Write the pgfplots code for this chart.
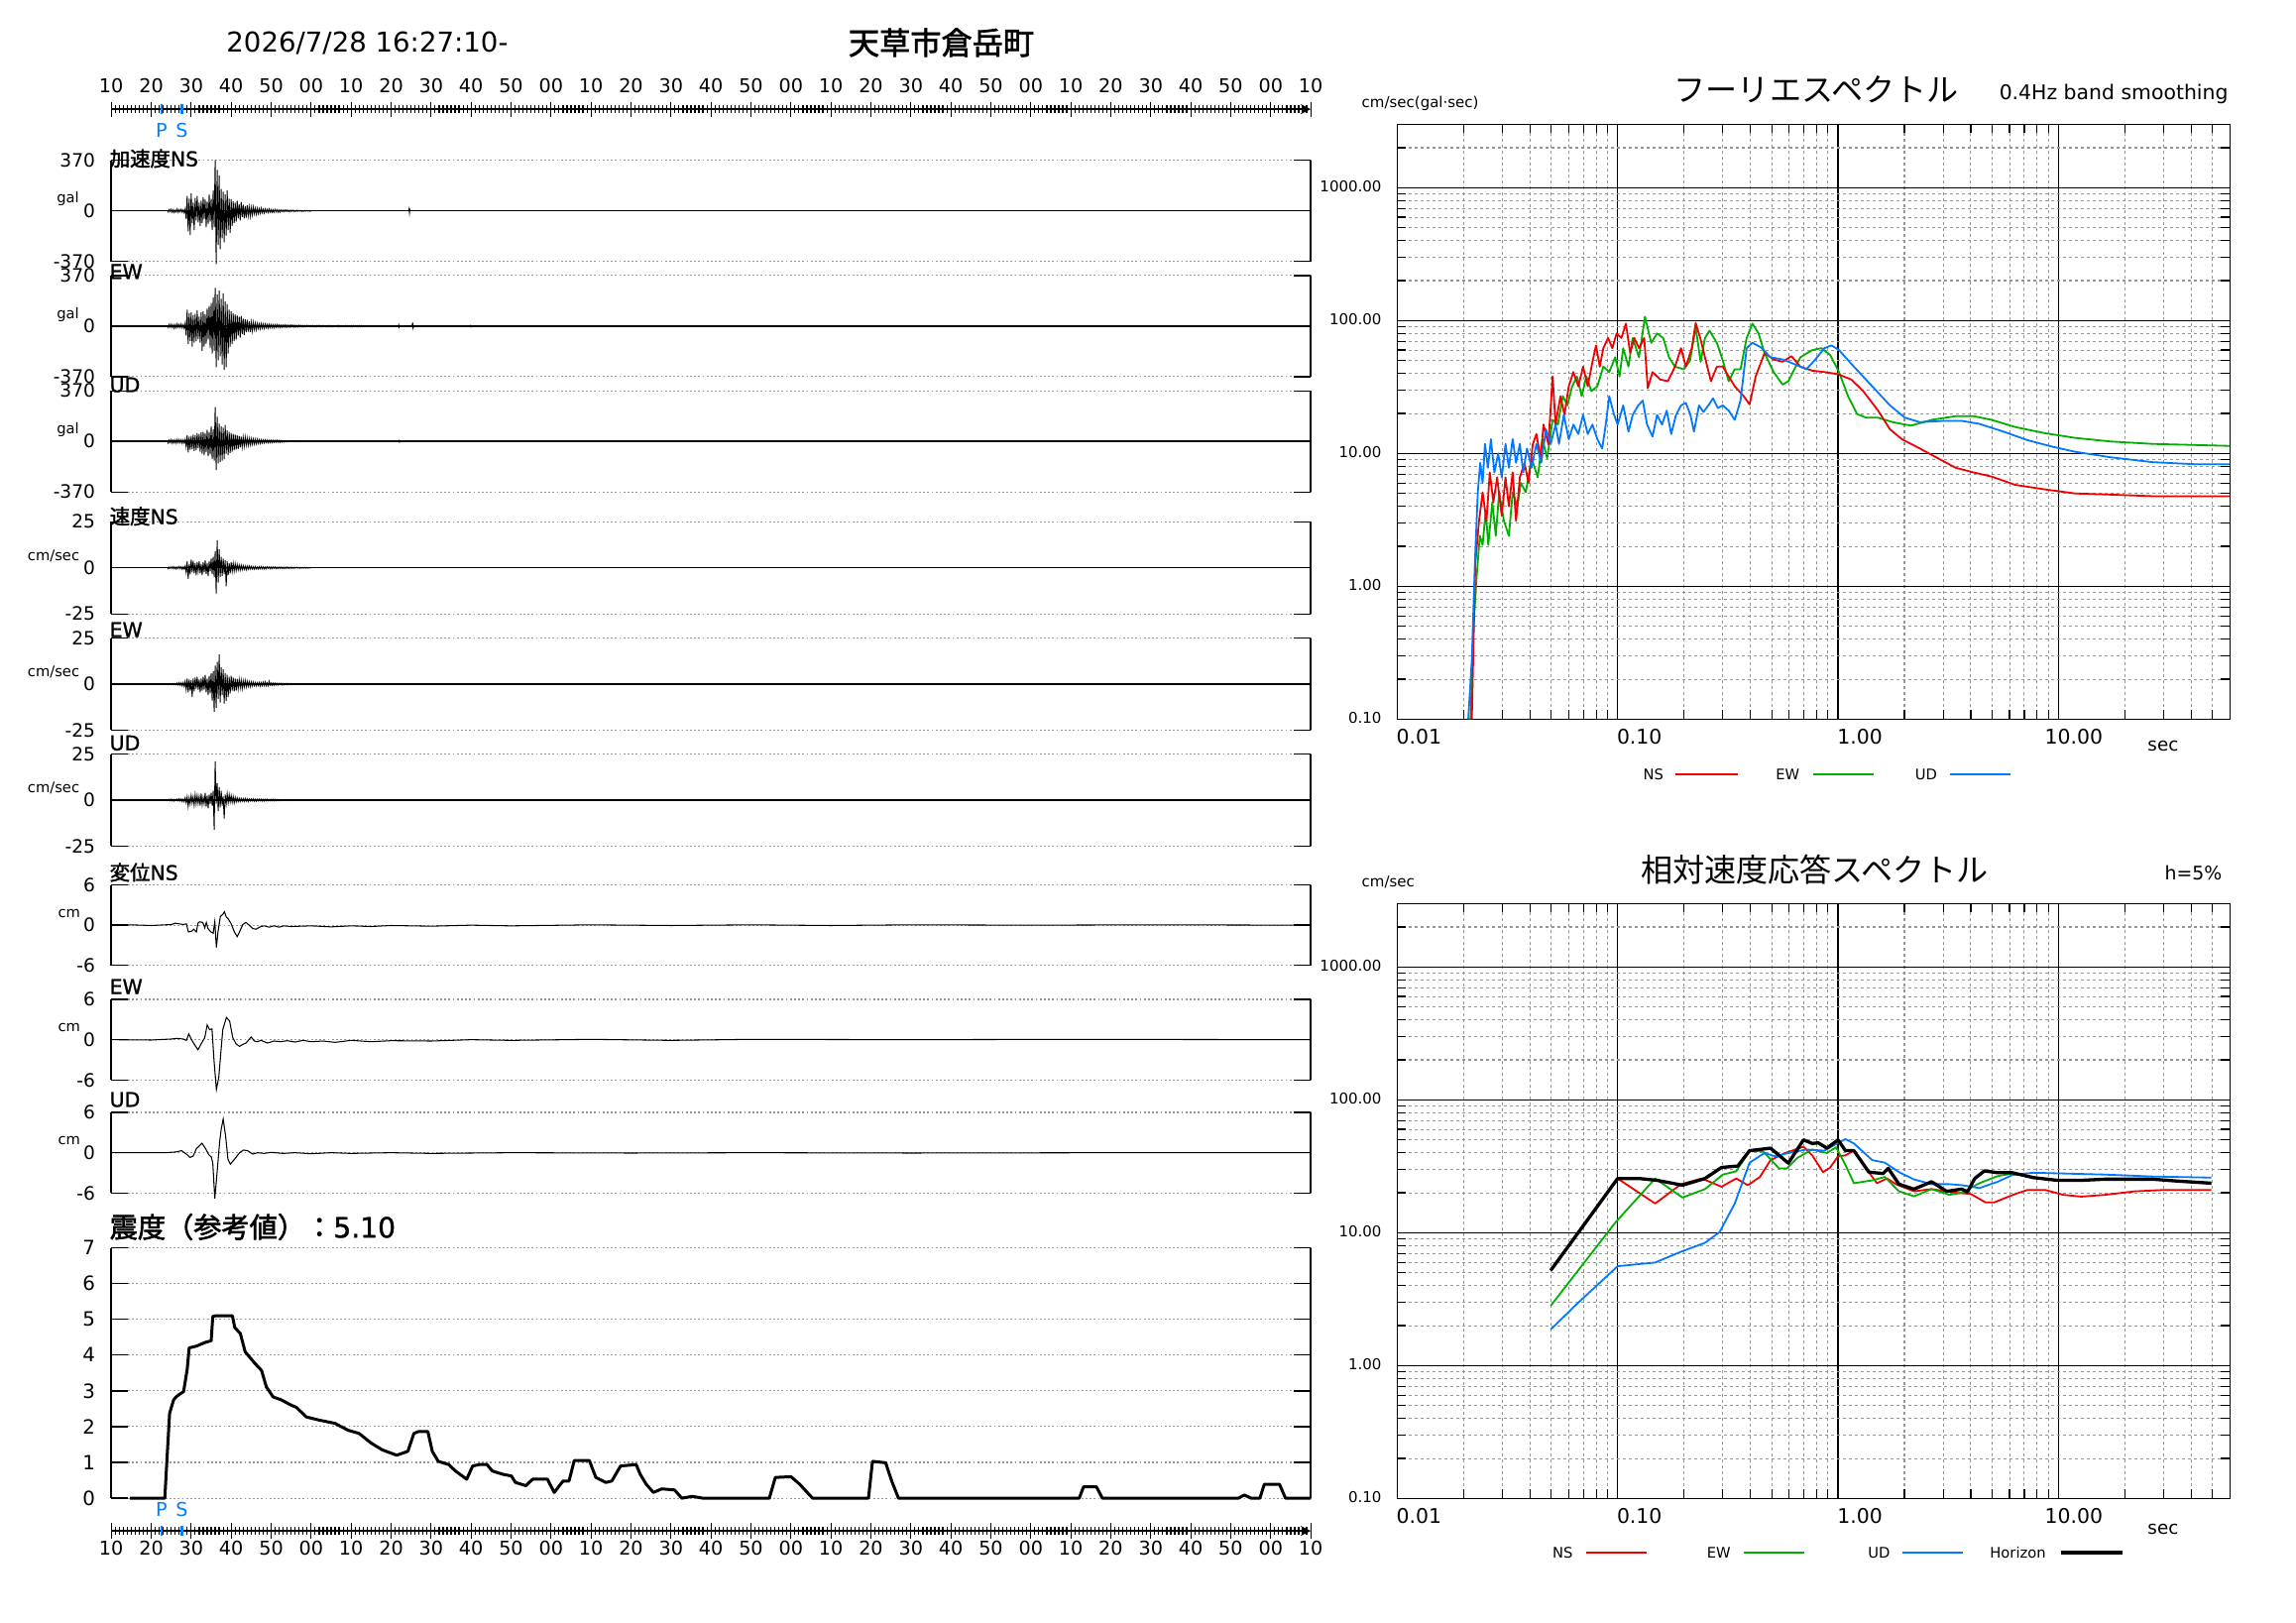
\documentclass[border=0pt]{standalone}
\usepackage{fontspec}
\usepackage{pgfplots}
\usepackage{pgfplotstable}
\pgfplotsset{compat=1.18}
\setmainfont{DejaVu Sans}
\newfontfamily\cjk{Noto Sans CJK JP}
\newfontfamily\cjkb{Noto Sans CJK JP}[FakeBold=2]
\newfontfamily\djb{DejaVu Sans}[FakeBold=1.2]
\newcommand{\fs}[1]{\fontsize{#1}{#1}\selectfont}
\definecolor{psblue}{RGB}{0,128,255}
\definecolor{nsred}{RGB}{240,0,0}
\definecolor{ewgreen}{RGB}{0,175,0}
\definecolor{udblue}{RGB}{0,120,255}
\definecolor{gridgray}{RGB}{150,150,150}

\pgfplotstableread[row sep=\\]{v\\
5\\-8\\10\\-6\\ 12\\-10\\8\\-12\\ 6\\-9\\14\\-11\\ 9\\-7\\12\\-10\\
8\\-14\\15\\-60\\ 110\\-150\\90\\-175\\ 130\\-90\\60\\-140\\ 95\\-70\\110\\-85\\
60\\-110\\75\\-90\\ 100\\-60\\85\\-120\\ 70\\-95\\120\\-80\\ 90\\-140\\150\\-120\\
370\\-390\\300\\-250\\ 260\\-280\\160\\-200\\ 140\\-230\\120\\-180\\ 150\\-140\\90\\-160\\
85\\-110\\70\\-90\\ 60\\-80\\75\\-55\\ 50\\-70\\65\\-45\\ 45\\-55\\35\\-50\\
40\\-35\\30\\-40\\ 25\\-30\\28\\-22\\ 20\\-25\\18\\-20\\ 15\\-18\\20\\-14\\
12\\-16\\14\\-10\\ 10\\-12\\13\\-9\\ 9\\-11\\8\\-10\\ 10\\-7\\8\\-9\\
6\\-8\\7\\-5\\ 5\\-6\\7\\-4\\ 6\\-5\\4\\-6\\ 5\\-3\\4\\-5\\
3\\-4\\5\\-3\\ 4\\-3\\3\\-4\\ 2\\-3\\3\\-2\\ 3\\-2\\2\\-3\\ 0\\
}\accNS

\pgfplotstableread[row sep=\\]{v\\
6\\-9\\12\\-8\\ 14\\-10\\9\\-15\\ 10\\-12\\16\\-9\\ 12\\-10\\15\\-13\\
10\\-16\\20\\-70\\ 120\\-130\\95\\-110\\ 100\\-150\\80\\-120\\ 90\\-110\\115\\-95\\
70\\-120\\100\\-180\\ 110\\-150\\90\\-130\\ 130\\-100\\150\\-160\\ 170\\-200\\210\\-180\\
280\\-300\\230\\-250\\ 260\\-220\\200\\-280\\ 240\\-320\\180\\-300\\ 160\\-200\\120\\-150\\
110\\-130\\95\\-110\\ 85\\-100\\80\\-70\\ 70\\-85\\75\\-60\\ 55\\-65\\50\\-45\\
45\\-40\\35\\-42\\ 30\\-35\\28\\-25\\ 22\\-26\\20\\-18\\ 16\\-20\\18\\-15\\
14\\-17\\15\\-12\\ 12\\-14\\13\\-11\\ 11\\-12\\10\\-12\\ 10\\-9\\11\\-8\\
9\\-10\\8\\-9\\ 8\\-7\\9\\-8\\ 7\\-8\\6\\-7\\ 8\\-6\\7\\-8\\
6\\-7\\5\\-6\\ 7\\-5\\6\\-6\\ 5\\-6\\4\\-5\\ 6\\-4\\5\\-5\\
5\\-4\\6\\-5\\ 4\\-6\\5\\-4\\ 6\\-5\\4\\-6\\ 5\\-4\\5\\-5\\
4\\-5\\6\\-4\\ 5\\-6\\4\\-5\\ 4\\-4\\5\\-6\\ 6\\-5\\4\\-4\\
4\\-5\\5\\-4\\ 5\\-4\\4\\-5\\ 4\\-6\\5\\-4\\ 5\\-4\\4\\-5\\
4\\-5\\5\\-4\\ 3\\-4\\3\\-3\\ 0\\
}\accEW

\pgfplotstableread[row sep=\\]{v\\
8\\-12\\10\\-9\\ 12\\-14\\9\\-11\\ 10\\-13\\14\\-10\\ 12\\-9\\11\\-14\\
10\\-12\\14\\-40\\ 45\\-80\\35\\-60\\ 40\\-55\\50\\-70\\ 45\\-65\\60\\-50\\
55\\-75\\65\\-90\\ 70\\-100\\60\\-80\\ 85\\-110\\70\\-95\\ 110\\-130\\90\\-140\\
250\\-210\\180\\-160\\ 130\\-150\\110\\-140\\ 100\\-130\\120\\-90\\ 80\\-100\\70\\-85\\
60\\-75\\55\\-65\\ 50\\-60\\45\\-55\\ 40\\-45\\35\\-40\\ 30\\-35\\32\\-28\\
25\\-28\\22\\-25\\ 20\\-22\\18\\-20\\ 16\\-18\\15\\-14\\ 13\\-15\\12\\-12\\
10\\-12\\11\\-9\\ 9\\-10\\8\\-9\\ 8\\-9\\7\\-8\\ 7\\-6\\8\\-6\\
6\\-7\\5\\-6\\ 4\\-5\\3\\-4\\ 3\\-3\\2\\-2\\ 3\\-2\\2\\-3\\
2\\-2\\3\\-2\\ 2\\-3\\2\\-2\\ 2\\-2\\1\\-2\\ 1\\-2\\2\\-1\\ 0\\
}\accUD

\pgfplotstableread[row sep=\\]{v\\
0.3\\-0.5\\0.4\\-0.3\\ 0.5\\-0.4\\0.6\\-0.5\\ 0.4\\-0.6\\0.5\\-0.4\\ 0.7\\-0.5\\0.6\\-0.8\\
0.5\\-0.7\\1.0\\-2.5\\ 3.5\\-6.0\\2.0\\-3.5\\ 4.5\\-2.5\\3.8\\-3.0\\ 2.5\\-4.0\\3.0\\-2.0\\
3.5\\-3.0\\2.0\\-4.0\\ 3.0\\-2.5\\4.0\\-3.5\\ 2.5\\-4.5\\3.5\\-2.0\\ 5.0\\-3.5\\6.0\\-5.0\\
9.0\\-14.0\\15.0\\-8.0\\ 10.0\\-5.0\\6.0\\-4.5\\ 5.0\\-3.5\\4.0\\-10.0\\ 3.5\\-4.0\\2.5\\-3.0\\
3.0\\-2.0\\2.5\\-1.8\\ 2.2\\-1.5\\1.8\\-1.2\\ 1.5\\-1.2\\1.4\\-1.0\\ 1.2\\-0.9\\1.0\\-1.1\\
0.9\\-0.8\\1.0\\-0.7\\ 0.8\\-0.7\\0.6\\-0.8\\ 0.7\\-0.6\\0.5\\-0.7\\ 0.6\\-0.5\\0.7\\-0.6\\
0.5\\-0.6\\0.4\\-0.5\\ 0.6\\-0.4\\0.5\\-0.5\\ 0.4\\-0.5\\0.4\\-0.3\\ 0.5\\-0.4\\0.3\\-0.4\\
0.4\\-0.3\\0.4\\-0.4\\ 0.3\\-0.4\\0.3\\-0.3\\ 0.4\\-0.3\\0.3\\-0.3\\ 0.3\\-0.3\\0.2\\-0.3\\
0.3\\-0.2\\0.3\\-0.2\\ 0.2\\-0.3\\0.2\\-0.2\\ 0.2\\-0.2\\0.3\\-0.2\\ 0.2\\-0.2\\0.2\\-0.1\\ 0\\
}\velNS

\pgfplotstableread[row sep=\\]{v\\
0.2\\-0.3\\0.3\\-0.2\\ 0.3\\-0.2\\0.4\\-0.3\\ 0.3\\-0.4\\0.6\\-0.5\\ 0.8\\-0.6\\0.7\\-1.0\\
0.8\\-1.2\\1.5\\-3.0\\ 3.0\\-4.5\\2.5\\-3.5\\ 2.0\\-7.0\\3.0\\-4.0\\ 3.5\\-2.5\\4.0\\-3.0\\
2.5\\-4.5\\3.0\\-3.5\\ 4.0\\-3.0\\5.0\\-4.5\\ 3.0\\-6.0\\4.5\\-5.0\\ 6.0\\-9.0\\7.0\\-15.0\\
10.0\\-13.0\\12.0\\-8.0\\ 16.0\\-10.0\\9.0\\-6.0\\ 8.0\\-10.5\\6.0\\-9.0\\ 5.0\\-7.0\\4.0\\-5.0\\
4.5\\-3.5\\3.5\\-4.0\\ 3.0\\-3.5\\2.8\\-2.5\\ 2.5\\-2.0\\2.2\\-2.5\\ 1.8\\-1.6\\2.0\\-1.5\\
1.5\\-1.2\\1.3\\-1.4\\ 1.2\\-1.0\\1.1\\-0.9\\ 0.8\\-1.0\\0.7\\-0.8\\ 0.9\\-1.1\\0.8\\-0.9\\
1.0\\-0.8\\1.2\\-0.9\\ 0.7\\-0.9\\1.5\\-0.6\\ 0.6\\-0.7\\0.5\\-0.6\\ 0.5\\-0.4\\0.4\\-0.5\\
0.4\\-0.3\\0.4\\-0.4\\ 0.3\\-0.4\\0.3\\-0.3\\ 0.4\\-0.3\\0.3\\-0.3\\ 0.3\\-0.3\\0.2\\-0.3\\
0.3\\-0.2\\0.3\\-0.2\\ 0.2\\-0.3\\0.2\\-0.2\\ 0.2\\-0.2\\0.3\\-0.2\\ 0.2\\-0.2\\0.2\\-0.1\\ 0\\
}\velEW

\pgfplotstableread[row sep=\\]{v\\
0.3\\-0.2\\0.4\\-0.3\\ 0.5\\-0.4\\0.3\\-0.5\\ 0.4\\-0.3\\0.6\\-0.4\\ 0.7\\-0.5\\0.6\\-0.8\\
0.5\\-0.9\\1.2\\-1.5\\ 1.8\\-3.5\\1.2\\-2.0\\ 2.5\\-1.5\\1.8\\-2.8\\ 3.0\\-2.0\\2.5\\-1.8\\
2.0\\-3.0\\3.5\\-2.5\\ 1.5\\-2.0\\4.0\\-3.5\\ 2.5\\-4.5\\3.0\\-2.0\\ 4.0\\-3.0\\5.0\\-16.0\\
21.0\\-2.0\\9.0\\-6.0\\ 7.0\\-4.0\\5.0\\-3.0\\ 2.0\\-10.0\\3.0\\-2.0\\ 3.5\\-1.5\\3.0\\-1.0\\
2.5\\-1.2\\2.0\\-1.5\\ 1.5\\-1.0\\1.2\\-0.8\\ 1.0\\-0.8\\0.9\\-0.6\\ 0.8\\-0.7\\0.9\\-0.6\\
0.7\\-0.8\\0.6\\-0.5\\ 0.6\\-0.5\\0.7\\-0.6\\ 0.5\\-0.6\\0.5\\-0.4\\ 0.6\\-0.4\\0.5\\-0.5\\
0.4\\-0.5\\0.4\\-0.4\\ 0.5\\-0.4\\0.3\\-0.4\\ 0.4\\-0.3\\0.4\\-0.4\\ 0.3\\-0.4\\0.3\\-0.3\\
0.3\\-0.3\\0.2\\-0.3\\ 0.3\\-0.2\\0.3\\-0.2\\ 0.2\\-0.3\\0.2\\-0.2\\ 0.2\\-0.2\\0.2\\-0.1\\ 0\\
}\velUD

\pgfplotsset{
  wavepanel/.style={
    scale only axis, width=403.3pt, anchor=north west,
    xmin=0, xmax=300, xtick=\empty, clip=false,
    separate axis lines,
    x axis line style={draw=none},
    y axis line style={line width=0.5pt},
    ymajorgrids,
    major grid style={gridgray, line width=0.35pt, dash pattern=on 0.6pt off 0.8pt},
    tick align=inside, major tick length=5.6pt,
    tick style={black, line width=0.45pt},
    yticklabel pos=left,
    yticklabel style={font=\fs{6.2}, inner sep=0pt, anchor=east, xshift=-5.2pt},
  },
  specpanel/.style={
    scale only axis, width=280pt, height=200pt, anchor=north west,
    xmin=0.01, xmax=60, ymin=0.1, ymax=3000,
    xtick={0.01,0.1,1,10}, xticklabels={0.01,0.10,1.00,10.00},
    ytick={0.1,1,10,100,1000}, yticklabels={0.10,1.00,10.00,100.00,1000.00},
    minor xtick={0.02,0.03,0.04,0.05,0.06,0.07,0.08,0.09,0.2,0.3,0.4,0.5,0.6,0.7,0.8,0.9,2,3,4,5,6,7,8,9,20,30,40,50},
    minor ytick={0.2,0.3,0.4,0.5,0.6,0.7,0.8,0.9,2,3,4,5,6,7,8,9,20,30,40,50,60,70,80,90,200,300,400,500,600,700,800,900,2000},
    xmajorgrids, ymajorgrids, xminorgrids, yminorgrids,
    major grid style={black, line width=0.4pt},
    minor grid style={gridgray, line width=0.35pt, dash pattern=on 1pt off 1pt},
    tick align=inside, major tick length=3pt, minor tick length=3pt,
    tick style={black, line width=0.4pt},
    axis line style={black, line width=0.5pt},
    xticklabel style={font=\fs{6.8}, anchor=north east, inner sep=0pt, xshift=15.1pt, yshift=-3.1pt},
    yticklabel style={font=\fs{5}, anchor=east, inner sep=0pt, xshift=-5.1pt, yshift=0.6pt},
  },
  timeaxis/.style={
    scale only axis, width=403.3pt, height=2pt, clip=false,
    xmin=0, xmax=300, ymin=0, ymax=1,
    axis y line=none, axis line style={-, line width=0.5pt},
    xtick={0,10,...,300},
    xticklabels={10,20,30,40,50,00,10,20,30,40,50,00,10,20,30,40,50,00,10,20,30,40,50,00,10,20,30,40,50,00,10},
    minor x tick num=9, tick align=inside,
    tick style={black, line width=0.4pt},
    extra x ticks={12.6,17.7}, extra x tick labels={},
  },
}

\begin{document}
\begin{tikzpicture}
\path[use as bounding box] (0,0) rectangle (772pt,-545.67pt);

% titles
\node[font=\fs{9.2}] at (123.5pt,-14.5pt) {2026/7/28 16:27:10-};
\node[font=\fs{10.4}\cjkb] at (316.5pt,-14.3pt) {天草市倉岳町};

% top time axis
\begin{axis}[timeaxis, at={(37.4pt,-36.7pt)}, anchor=north west, axis x line=top,
  major tick length=5pt, minor tick length=2.4pt,
  xticklabel style={font=\fs{6.4}, inner sep=0pt, anchor=south, yshift=2.7pt},
  extra x tick style={major tick length=3.1pt, tick style={psblue, line width=0.9pt}}]
\addplot[draw=none] coordinates {(0,0)};
\node[psblue, font=\fs{6.4}, yshift=-7.2pt] at (axis cs:12.6,1) {P};
\node[psblue, font=\fs{6.4}, yshift=-7.2pt] at (axis cs:17.7,1) {S};
\end{axis}

% acceleration
\begin{axis}[wavepanel, at={(37.4pt,-53.9pt)}, height=34pt, ymin=-370, ymax=370, ytick={-370,0,370}, yticklabels={-370,0,370}]
\addplot[black, line width=0.5pt] coordinates {(0,0) (300,0)};
\addplot[black, line width=0.3pt] table[x expr=\coordindex*0.25+14, y=v] {\accNS};
\addplot[black, line width=0.3pt] coordinates {(74.4,0) (74.5,14) (74.6,-16) (74.7,8) (74.8,0)};
\node[anchor=east, inner sep=0pt, font=\fs{4.9}, xshift=-10.6pt, yshift=4pt] at (axis description cs:0,0.5) {gal};
\end{axis}
\begin{axis}[wavepanel, at={(37.4pt,-92.65pt)}, height=34pt, ymin=-370, ymax=370, ytick={-370,0,370}, yticklabels={-370,0,370}]
\addplot[black, line width=0.5pt] coordinates {(0,0) (300,0)};
\addplot[black, line width=0.3pt] table[x expr=\coordindex*0.25+14, y=v] {\accEW};
\addplot[black, line width=0.3pt] coordinates {(71.8,0) (71.9,10) (72,-8) (72.1,0)};
\addplot[black, line width=0.3pt] coordinates {(75.2,0) (75.3,12) (75.4,-10) (75.5,9) (75.6,-7) (75.7,0)};
\addplot[black, line width=0.3pt] coordinates {(89.8,0) (89.9,5) (90,-5) (90.1,0)};
\node[anchor=east, inner sep=0pt, font=\fs{4.9}, xshift=-10.6pt, yshift=4pt] at (axis description cs:0,0.5) {gal};
\end{axis}
\begin{axis}[wavepanel, at={(37.4pt,-131.4pt)}, height=34pt, ymin=-370, ymax=370, ytick={-370,0,370}, yticklabels={-370,0,370}]
\addplot[black, line width=0.5pt] coordinates {(0,0) (300,0)};
\addplot[black, line width=0.3pt] table[x expr=\coordindex*0.25+14, y=v] {\accUD};
\addplot[black, line width=0.3pt] coordinates {(71.9,0) (72,6) (72.1,-6) (72.2,0)};
\node[anchor=east, inner sep=0pt, font=\fs{4.9}, xshift=-10.6pt, yshift=4pt] at (axis description cs:0,0.5) {gal};
\end{axis}

% velocity
\begin{axis}[wavepanel, at={(37.4pt,-175.4pt)}, height=31pt, ymin=-25, ymax=25, ytick={-25,0,25}, yticklabels={-25,0,25}]
\addplot[black, line width=0.4pt] coordinates {(0,0) (300,0)};
\addplot[black, line width=0.3pt] table[x expr=\coordindex*0.25+14, y=v] {\velNS};
\node[anchor=east, inner sep=0pt, font=\fs{4.9}, xshift=-10.5pt, yshift=4pt] at (axis description cs:0,0.5) {cm/sec};
\end{axis}
\begin{axis}[wavepanel, at={(37.4pt,-214.5pt)}, height=31pt, ymin=-25, ymax=25, ytick={-25,0,25}, yticklabels={-25,0,25}]
\addplot[black, line width=0.4pt] coordinates {(0,0) (300,0)};
\addplot[black, line width=0.3pt] table[x expr=\coordindex*0.25+14, y=v] {\velEW};
\node[anchor=east, inner sep=0pt, font=\fs{4.9}, xshift=-10.5pt, yshift=4pt] at (axis description cs:0,0.5) {cm/sec};
\end{axis}
\begin{axis}[wavepanel, at={(37.4pt,-253.5pt)}, height=31pt, ymin=-25, ymax=25, ytick={-25,0,25}, yticklabels={-25,0,25}]
\addplot[black, line width=0.4pt] coordinates {(0,0) (300,0)};
\addplot[black, line width=0.3pt] table[x expr=\coordindex*0.25+14, y=v] {\velUD};
\node[anchor=east, inner sep=0pt, font=\fs{4.9}, xshift=-10.5pt, yshift=4pt] at (axis description cs:0,0.5) {cm/sec};
\end{axis}

% displacement
\begin{axis}[wavepanel, at={(37.4pt,-297.5pt)}, height=27.1pt, ymin=-6, ymax=6, ytick={-6,0,6}, yticklabels={-6,0,6}]
\addplot[black, line width=0.35pt] coordinates {(0,0) (5,0.05) (10,-0.05) (15.1,0.1) (16,0.3) (18,0.1) (18.8,0.2) (19.3,-1.0) (20.1,-0.9) (20.6,-0.6) (21.3,-1.0) (21.7,0.3) (22.1,0.5) (22.9,0.4) (23.4,-0.4) (23.8,0.4) (24.2,-0.5) (24.9,-1.0) (25.5,-1.2) (25.9,0.5) (26.3,-3.3) (26.7,-1.0) (27.3,1.3) (27.9,1.6) (28.3,2.0) (28.8,1.2) (29.3,0.9) (30,0.2) (30.8,-1.0) (31.5,-1.7) (32.1,-1.0) (32.9,0.1) (33.7,0.4) (34.5,0) (35.4,-0.5) (36.2,-0.6) (37.4,-0.2) (38.3,-0.1) (39.5,-0.3) (40.7,-0.1) (42,-0.3) (43.2,-0.1) (45,-0.2) (50,-0.1) (55,-0.25) (60,-0.1) (65,-0.2) (70,-0.05) (80,-0.15) (90,0) (100,-0.1) (120,0.05) (140,-0.05) (160,0.05) (180,-0.05) (200,0.05) (230,0) (260,0.05) (300,0)};
\node[anchor=east, inner sep=0pt, font=\fs{4.9}, xshift=-10.2pt, yshift=4pt] at (axis description cs:0,0.5) {cm};
\end{axis}
\begin{axis}[wavepanel, at={(37.4pt,-336pt)}, height=27.1pt, ymin=-6, ymax=6, ytick={-6,0,6}, yticklabels={-6,0,6}]
\addplot[black, line width=0.35pt] coordinates {(0,0) (10,-0.05) (15.1,0.1) (16.4,0.2) (18,0.1) (18.8,-0.1) (19.4,0.85) (20.1,0) (20.9,-0.8) (21.7,-1.5) (22.6,-0.5) (23.4,0.3) (24,2.2) (24.6,1.5) (25.2,1.6) (25.7,-3.0) (26.3,-7.4) (26.9,-5.6) (27.4,-2.0) (27.9,1.5) (28.8,3.3) (29.6,2.8) (30.4,0.3) (31.2,-0.6) (32.1,-1.0) (32.9,-0.7) (33.7,-0.5) (35,0.4) (35.8,-0.2) (36.6,-0.3) (37.4,-0.1) (39.1,-0.5) (40.7,-0.2) (42.4,-0.3) (44,-0.15) (46,-0.35) (48,-0.1) (50,-0.3) (53,-0.2) (56,-0.4) (60,-0.1) (65,-0.3) (70,-0.15) (80,-0.2) (90,0) (100,-0.1) (120,0.05) (140,-0.1) (160,0.05) (200,0) (240,0.05) (300,0)};
\node[anchor=east, inner sep=0pt, font=\fs{4.9}, xshift=-10.2pt, yshift=4pt] at (axis description cs:0,0.5) {cm};
\end{axis}
\begin{axis}[wavepanel, at={(37.4pt,-374pt)}, height=27.1pt, ymin=-6, ymax=6, ytick={-6,0,6}, yticklabels={-6,0,6}]
\addplot[black, line width=0.35pt] coordinates {(0,0) (13.5,0) (16,0.1) (17.6,0.3) (18.8,-0.2) (19.7,-0.7) (20.5,-0.5) (21.3,0.6) (22.7,1.4) (23.6,0.6) (24.4,-0.3) (25,-0.6) (25.4,-1.5) (25.9,-6.8) (26.4,-3.5) (27.1,1.5) (27.5,3.5) (28,5.0) (28.6,2.5) (29.2,-1.0) (29.8,-1.7) (30.8,-1.0) (32.1,0) (33.1,0.4) (34.1,0.3) (35.4,-0.2) (36.6,0) (38.3,-0.1) (40,0.05) (43,-0.1) (46,0) (50,-0.15) (55,0) (60,-0.1) (70,0) (80,-0.1) (100,0) (130,-0.05) (160,0) (200,-0.05) (250,0) (300,0)};
\node[anchor=east, inner sep=0pt, font=\fs{4.9}, xshift=-10.2pt, yshift=4pt] at (axis description cs:0,0.5) {cm};
\end{axis}

% intensity
\begin{axis}[wavepanel, at={(37.4pt,-419.5pt)}, height=84.2pt, ymin=0, ymax=7, ytick={0,1,2,3,4,5,6,7}, yticklabels={0,1,2,3,4,5,6,7}, yticklabel style={font=\fs{6.6}}]
\addplot[black, line width=1pt, line join=round] coordinates {(4.7,0) (13.4,0) (14.0,1.2) (14.6,2.37) (15.6,2.75) (16.4,2.85) (18.1,2.98) (19.0,3.6) (19.5,4.2) (21.3,4.25) (23.4,4.35) (25.0,4.4) (25.4,5.08) (26.2,5.1) (30.3,5.1) (30.9,4.77) (32.3,4.6) (33.5,4.09) (36.0,3.76) (37.6,3.57) (38.8,3.11) (40.5,2.83) (42.5,2.75) (45.0,2.6) (46.3,2.54) (48.8,2.27) (52.1,2.18) (56,2.09) (59.2,1.9) (62,1.81) (65,1.54) (67.8,1.35) (71.4,1.2) (74.2,1.31) (75.7,1.81) (76.8,1.86) (79.2,1.86) (80.3,1.31) (81.8,1.03) (84.4,0.94) (86.1,0.76) (88.9,0.53) (90.4,0.9) (92.1,0.94) (94,0.94) (95.3,0.76) (97.9,0.67) (100.1,0.62) (101.1,0.44) (103.7,0.35) (105.4,0.53) (109.1,0.53) (110.8,0.16) (113,0.48) (114.5,0.48) (115.8,1.05) (119.6,1.05) (121.2,0.58) (123.7,0.44) (125.2,0.48) (127.4,0.9) (131.3,0.94) (132.3,0.67) (133.8,0.39) (135.6,0.16) (137.7,0.26) (140.9,0.23) (142.7,0) (145.3,0.05) (148,0) (164.6,0) (166.1,0.58) (170,0.6) (172.2,0.39) (175.4,0) (189.4,0) (190.4,1.03) (193.7,0.99) (195.2,0.48) (196.9,0) (242.1,0) (243.2,0.32) (246.4,0.32) (247.9,0) (281.9,0) (283.4,0.09) (285.1,0) (287.3,0) (288.4,0.39) (292.2,0.39) (293.7,0) (300,0)};
\end{axis}

% bottom time axis
\begin{axis}[timeaxis, at={(37.4pt,-514.7pt)}, anchor=south west, axis x line=bottom,
  major tick length=5.3pt, minor tick length=2.7pt,
  xticklabel style={font=\fs{6.4}, inner sep=0pt, anchor=north, yshift=-0.5pt},
  extra x tick style={major tick length=3.4pt, tick style={psblue, line width=0.9pt}}]
\addplot[draw=none] coordinates {(0,0)};
\node[psblue, font=\fs{6.4}, yshift=7.1pt] at (axis cs:12.6,0) {P};
\node[psblue, font=\fs{6.4}, yshift=7.1pt] at (axis cs:17.7,0) {S};
\end{axis}

% panel labels
\node[anchor=west, inner sep=0pt, font=\fs{6.8}] at (36.7pt,-53.3pt) {{\cjkb 加速度}{\djb NS}};
\node[anchor=west, inner sep=0pt, font=\fs{6.8}\djb] at (36.7pt,-91.3pt) {EW};
\node[anchor=west, inner sep=0pt, font=\fs{6.8}\djb] at (36.7pt,-129.4pt) {UD};
\node[anchor=west, inner sep=0pt, font=\fs{6.8}] at (36.7pt,-173.6pt) {{\cjkb 速度}{\djb NS}};
\node[anchor=west, inner sep=0pt, font=\fs{6.8}\djb] at (36.7pt,-211.7pt) {EW};
\node[anchor=west, inner sep=0pt, font=\fs{6.8}\djb] at (36.7pt,-249.8pt) {UD};
\node[anchor=west, inner sep=0pt, font=\fs{6.8}] at (36.7pt,-293.3pt) {{\cjkb 変位}{\djb NS}};
\node[anchor=west, inner sep=0pt, font=\fs{6.8}\djb] at (36.7pt,-331.7pt) {EW};
\node[anchor=west, inner sep=0pt, font=\fs{6.8}\djb] at (36.7pt,-369.7pt) {UD};
\node[anchor=west, inner sep=0pt, font=\fs{9.4}] at (36.7pt,-412.5pt) {{\cjkb 震度（参考値）：}{\djb 5.10}};

% Fourier spectrum
\node[font=\fs{10.7}\cjk] at (610.7pt,-30.1pt) {フーリエスペクトル};
\node[font=\fs{6.8}] at (710.7pt,-31.7pt) {0.4Hz band smoothing};
\node[anchor=west, inner sep=0pt, font=\fs{5}] at (457.7pt,-34.8pt) {cm/sec(gal·sec)};
\begin{loglogaxis}[specpanel, at={(469.8pt,-41.8pt)}]
\addplot[ewgreen, line width=0.6pt, line join=round] coordinates {(0.0215,0.1) (0.0222,0.5) (0.0229,1.15) (0.0237,2.4) (0.0244,2.05) (0.0252,3.7) (0.0259,2.05) (0.027,4.3) (0.028,2.4) (0.029,5.1) (0.0305,3.1) (0.0321,2.4) (0.0334,5.1) (0.0351,4.0) (0.0364,6.0) (0.0383,5.1) (0.0407,9.2) (0.0434,6.6) (0.0456,12.8) (0.0479,9.2) (0.0507,17.9) (0.0536,16.5) (0.0564,27) (0.0592,23) (0.0622,32) (0.0654,38) (0.0687,27) (0.0722,38) (0.076,29.5) (0.0809,32) (0.0861,45) (0.0916,41) (0.0975,53) (0.102,38) (0.106,62) (0.112,45) (0.117,74) (0.125,53) (0.133,107) (0.142,68) (0.151,80) (0.161,74) (0.171,53) (0.182,45) (0.2,43) (0.213,50) (0.226,89) (0.238,49) (0.249,74) (0.261,84) (0.282,68) (0.3,50) (0.319,35) (0.34,43) (0.361,43) (0.385,74) (0.409,95) (0.436,80) (0.464,57) (0.51,41) (0.56,33) (0.595,35) (0.675,53) (0.764,60) (0.84,62) (0.922,55) (1.01,41) (1.11,27) (1.22,19.8) (1.34,18.6) (1.52,18.6) (1.77,17.2) (2.14,16.2) (2.66,17.9) (3.42,19.1) (4.12,19.1) (4.97,17.9) (6.38,15.8) (8.71,14.2) (11.9,13.1) (17.3,12.3) (26.8,11.8) (60,11.4)};
\addplot[nsred, line width=0.6pt, line join=round] coordinates {(0.0218,0.1) (0.0226,1.47) (0.0235,3.1) (0.0244,5.1) (0.0254,3.1) (0.0263,7.2) (0.0273,4.3) (0.0284,6.6) (0.0298,3.4) (0.031,6.6) (0.0321,4.0) (0.0334,7.2) (0.0346,3.1) (0.036,6.6) (0.0378,8.5) (0.0394,6.0) (0.0412,11.7) (0.0428,14) (0.0447,9.2) (0.0461,16.5) (0.0485,11.7) (0.0507,38) (0.0523,16.5) (0.055,27) (0.0574,19.5) (0.06,32) (0.063,41) (0.0663,32) (0.0697,45) (0.0732,32) (0.0769,49) (0.0798,65) (0.083,45) (0.0861,62) (0.0905,74) (0.0946,62) (0.0989,80) (0.104,74) (0.109,95) (0.114,57) (0.119,74) (0.125,62) (0.132,74) (0.137,31) (0.144,41) (0.156,36) (0.169,35) (0.182,45) (0.194,62) (0.204,45) (0.217,62) (0.226,96) (0.237,74) (0.249,53) (0.265,35) (0.282,45) (0.3,45) (0.319,38) (0.34,32) (0.373,27) (0.397,23.4) (0.423,38) (0.464,57) (0.51,51) (0.56,49) (0.615,54) (0.675,45) (0.764,42) (0.867,41) (1.0,39.5) (1.148,36) (1.3,29.5) (1.52,21) (1.72,15.2) (1.95,12.8) (2.35,10.9) (2.84,9.2) (3.42,7.8) (4.12,7.2) (4.97,6.7) (6.38,5.8) (8.71,5.36) (11.9,5.0) (17.3,4.9) (26.8,4.77) (60,4.77)};
\addplot[udblue, line width=0.6pt, line join=round] coordinates {(0.021,0.1) (0.0218,0.28) (0.0225,1.47) (0.0232,5.1) (0.0238,8.5) (0.0244,6.0) (0.025,11.8) (0.0258,7.8) (0.0266,12.8) (0.0276,7.2) (0.0287,10) (0.0298,6.6) (0.031,11.8) (0.0321,7.8) (0.0334,12.8) (0.0346,8.5) (0.036,11.8) (0.0373,7.2) (0.0388,10.9) (0.0407,7.8) (0.0428,11.8) (0.045,8.5) (0.0473,15.2) (0.0497,11.8) (0.0523,16.5) (0.0542,11.8) (0.057,19.5) (0.06,12.8) (0.063,16.5) (0.0663,14) (0.0697,19.5) (0.0732,14) (0.0769,16.5) (0.0809,12.8) (0.0851,10.9) (0.0883,16.5) (0.0916,27) (0.0964,19.5) (0.1,16.5) (0.106,23) (0.112,14.6) (0.117,19.5) (0.124,23) (0.13,25) (0.136,16.5) (0.144,13.4) (0.151,19.5) (0.159,16.5) (0.167,21) (0.175,14) (0.184,19.5) (0.194,23) (0.204,24) (0.214,19.5) (0.222,14.6) (0.234,23) (0.245,20.5) (0.258,23) (0.271,26) (0.285,22) (0.3,23) (0.319,21) (0.34,17.9) (0.361,25) (0.385,62) (0.409,68) (0.446,63) (0.494,53) (0.56,51) (0.635,47) (0.718,43) (0.789,51) (0.867,62) (0.934,65) (1.01,60) (1.18,45) (1.43,32) (1.72,23) (2.01,18.6) (2.35,17.2) (3.02,17.6) (3.64,17.6) (4.38,16.7) (5.63,14.6) (7.23,12.6) (9.27,11.3) (11.9,10.3) (17.3,9.35) (26.8,8.6) (41.5,8.3) (60,8.3)};
\end{loglogaxis}
\node[font=\fs{6.1}] at (727.3pt,-251pt) {sec};
\node[font=\fs{4.9}] at (555.9pt,-260.3pt) {NS};
\draw[nsred, line width=0.6pt] (563.3pt,-260.3pt) -- (584.3pt,-260.3pt);
\node[font=\fs{4.9}] at (601.1pt,-260.3pt) {EW};
\draw[ewgreen, line width=0.6pt] (609.6pt,-260.3pt) -- (630pt,-260.3pt);
\node[font=\fs{4.9}] at (647.6pt,-260.3pt) {UD};
\draw[udblue, line width=0.6pt] (655.7pt,-260.3pt) -- (675.9pt,-260.3pt);

% response spectrum
\node[font=\fs{10.7}\cjk] at (610.2pt,-292.3pt) {相対速度応答スペクトル};
\node[font=\fs{6.3}] at (737.5pt,-293.5pt) {h=5\%};
\node[anchor=west, inner sep=0pt, font=\fs{5}] at (457.7pt,-296.7pt) {cm/sec};
\begin{loglogaxis}[specpanel, at={(469.8pt,-303.8pt)}]
\addplot[nsred, line width=0.6pt, line join=round] coordinates {(0.0497,5.2) (0.1,25.6) (0.148,16.6) (0.194,23.2) (0.241,25.6) (0.296,22.2) (0.345,25.6) (0.39,22.8) (0.442,26.3) (0.494,35.2) (0.575,39.8) (0.697,44.4) (0.764,38.2) (0.855,28.6) (0.92,30.9) (1.0,37.6) (1.08,38.2) (1.18,41.5) (1.34,30.5) (1.5,23.6) (1.67,25.6) (1.83,23.2) (2.21,20.5) (2.66,21.3) (3.42,20) (4.0,19.6) (4.67,16.9) (5.1,16.9) (6.38,19.6) (7.23,21) (8.71,21) (10.5,19.3) (12.7,18.7) (16.3,19.3) (22.2,20.5) (30.3,21) (49.4,21)};
\addplot[ewgreen, line width=0.6pt, line join=round] coordinates {(0.0497,2.82) (0.0975,11.9) (0.148,25.6) (0.197,18.4) (0.249,21.3) (0.3,27.4) (0.345,29) (0.397,41.5) (0.458,40.8) (0.54,30.5) (0.586,30.5) (0.655,36.7) (0.764,42.3) (0.89,39.8) (0.98,44) (1.08,32.4) (1.18,23.6) (1.43,24.8) (1.63,26.3) (1.89,20.5) (2.21,18.8) (2.66,21.3) (3.2,19.3) (3.64,20) (4.38,23.6) (5.3,26.7) (6.18,27.9) (7.69,26) (9.88,24.8) (12.7,24.8) (16.3,25.3) (26.8,25.3) (34.4,24.5) (49.4,23.6)};
\addplot[udblue, line width=0.6pt, line join=round] coordinates {(0.0497,1.87) (0.065,2.89) (0.1,5.6) (0.148,5.97) (0.194,7.2) (0.249,8.4) (0.29,10.1) (0.34,16.6) (0.397,33.7) (0.464,39.8) (0.52,37.6) (0.595,39.8) (0.718,42.3) (0.867,41.5) (0.95,45.2) (1.08,50.7) (1.18,47) (1.43,35.2) (1.63,33.7) (1.89,28.6) (2.21,25.2) (2.66,23.2) (3.2,23.2) (3.64,22.8) (4.38,21.7) (5.3,24.2) (6.18,27.2) (7.69,28.3) (16.3,27.4) (26.8,26.5) (49.4,26)};
\addplot[black, line width=1.1pt, line join=round] coordinates {(0.0497,5.2) (0.1,25.6) (0.125,25.6) (0.151,24.8) (0.197,22.8) (0.249,25.6) (0.296,31) (0.351,31.8) (0.397,41.5) (0.494,43.3) (0.595,33.4) (0.697,50) (0.764,47) (0.813,47.5) (0.89,43.3) (1.0,50) (1.08,41.5) (1.18,41.5) (1.38,28.6) (1.6,27.9) (1.69,30.5) (1.89,23.2) (2.21,21.3) (2.66,24.2) (3.11,20.5) (3.64,21.3) (3.87,20.3) (4.17,25.6) (4.61,29.2) (5.3,28.3) (6.18,28.3) (7.69,26) (9.88,24.8) (12.7,24.8) (16.3,25.3) (26.8,25.3) (34.4,24.5) (49.4,23.6)};
\end{loglogaxis}
\node[font=\fs{6.1}] at (727.3pt,-514.3pt) {sec};
\node[font=\fs{4.9}] at (525.4pt,-522pt) {NS};
\draw[nsred, line width=0.6pt] (533.4pt,-522pt) -- (553.7pt,-522pt);
\node[font=\fs{4.9}] at (577.9pt,-522pt) {EW};
\draw[ewgreen, line width=0.6pt] (586.4pt,-522pt) -- (606.7pt,-522pt);
\node[font=\fs{4.9}] at (631.8pt,-522pt) {UD};
\draw[udblue, line width=0.6pt] (639.5pt,-522pt) -- (660.1pt,-522pt);
\node[font=\fs{4.9}] at (678.5pt,-522pt) {Horizon};
\draw[black, line width=1.1pt] (693pt,-522pt) -- (713.7pt,-522pt);
\end{tikzpicture}
\end{document}
